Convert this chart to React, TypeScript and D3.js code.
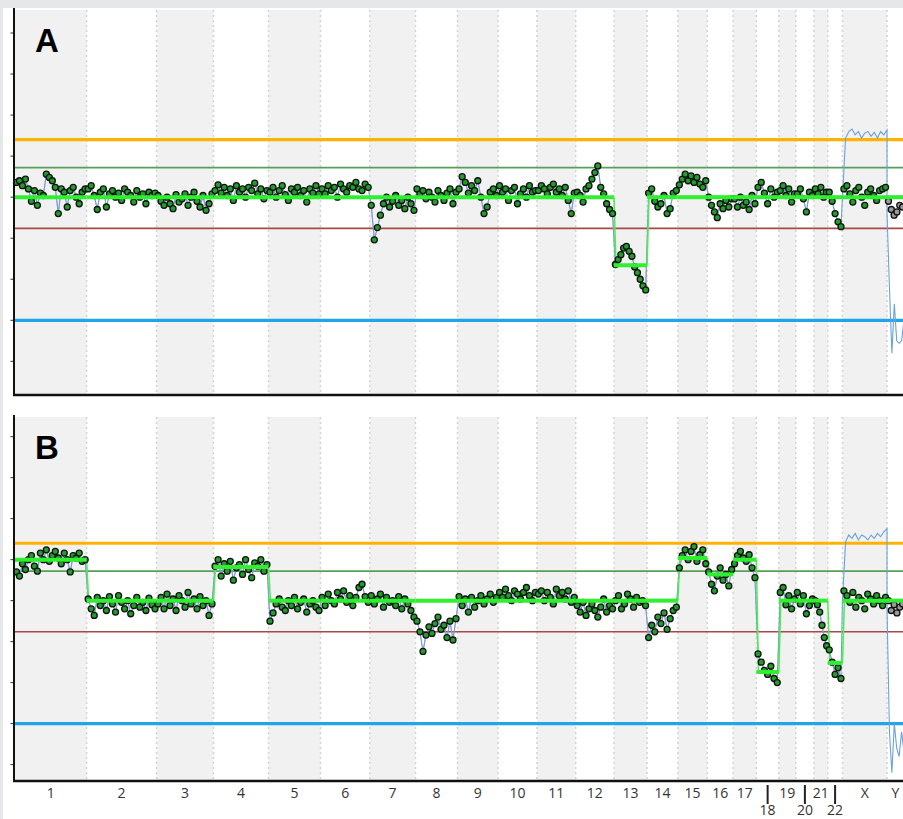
import React from "react";
import * as d3 from "d3";

// ---------- DATA ----------
const chromNames = ["1","2","3","4","5","6","7","8","9","10","11","12","13","14","15","16","17","18","19","20","21","22","X","Y"];
const chromLengthsMb = [249,243,198,191,181,171,159,146,141,135,135,133,115,107,102,90,81,78,59,63,48,51,155,59];
const lowerRowLabels = ["18","20","22"];

const yTickValues = [-2,-1.5,-1,-0.5,0,0.5,1,1.5,2];
const thresholdValues = [0.7, 0.36, -0.38, -1.5]; // high gain, gain, loss, high loss
const panelLetters = ["A","B"];

// Panel A probe bins (log2 ratio), one array per chromosome
const pointsA: number[][] = [
  [0.18,0.2,0.14,0.22,0.1,-0.05,0.08,-0.1,0.05,0.02,0.28,0.24,0.2,0.12,-0.2,0.1,0.06,-0.12,0.08,0.12,0.0,-0.08,0.06,0.1],
  [0.1,0.14,0.02,-0.15,0.06,0.1,-0.12,0.04,0.08,0.0,0.05,-0.04,0.1,0.06,0.02,-0.06,0.08,0.0,0.04,-0.08,0.06,0.02,0.05],
  [0.02,-0.05,-0.1,0.0,-0.08,-0.14,0.03,-0.06,-0.02,0.04,-0.1,0.0,0.06,-0.05,-0.12,0.02,-0.16,-0.08,0.04],
  [0.08,0.15,0.05,0.12,0.02,0.1,-0.04,0.14,0.06,0.1,0.0,0.12,0.08,0.17,0.04,0.1,-0.02,0.08],
  [0.06,0.12,0.0,0.08,0.14,0.03,-0.04,0.1,0.06,0.12,0.02,0.08,-0.06,0.1,0.05,0.14,0.04],
  [0.1,0.04,0.14,0.08,0.12,0.0,0.16,0.1,0.06,0.14,0.12,0.18,0.1,0.08,0.16,0.12],
  [-0.1,-0.52,-0.37,-0.22,-0.08,0.0,-0.12,-0.05,0.02,-0.1,-0.04,-0.14,0.0,-0.08,-0.16],
  [0.1,0.04,0.08,-0.02,0.06,0.0,-0.06,0.08,0.02,-0.04,0.05,0.1,-0.08,0.06],
  [0.1,0.25,0.18,0.05,0.14,0.08,0.2,0.0,-0.2,-0.12,0.06,0.1,0.02],
  [0.14,0.06,0.1,-0.04,0.08,0.12,-0.08,0.04,0.1,0.0,0.14,0.06,0.08],
  [0.08,0.14,0.1,0.04,0.12,0.16,0.06,0.1,0.02,0.12,-0.04,-0.2,0.05],
  [0.06,0.02,-0.06,0.1,0.14,0.22,0.3,0.38,0.12,0.04,-0.08,-0.15,-0.2],
  [-0.82,-0.76,-0.7,-0.62,-0.6,-0.66,-0.72,-0.85,-0.92,-1.0,-1.08,-1.13],
  [0.05,0.1,-0.05,-0.12,-0.08,0.02,-0.2,-0.14,0.05,0.08],
  [0.15,0.22,0.28,0.2,0.26,0.18,0.24,0.16,0.12,0.2],
  [0.0,-0.1,-0.18,-0.25,-0.08,-0.14,-0.04,-0.12,-0.02],
  [-0.02,-0.12,0.0,-0.1,-0.06,-0.15,0.02,-0.08],
  [0.12,0.18,0.05,-0.08,0.1,0.0,0.06],
  [0.08,0.14,0.02,0.1,-0.06,0.04],
  [0.04,0.1,-0.02,-0.18,0.06,0.02],
  [0.1,0.04,0.12,0.0,0.06],
  [0.06,-0.05,-0.2,-0.3,-0.36],
  [0.1,0.14,0.04,-0.06,0.08,0.12,0.0,-0.1,0.06,0.1,0.02,-0.04,0.08,0.1,0.12],
  [-0.05,-0.15,-0.22,-0.18,-0.1,-0.12],
];

const pointsB: number[][] = [
  [0.35,0.3,0.45,0.38,0.5,0.55,0.42,0.36,0.58,0.5,0.62,0.48,0.55,0.6,0.52,0.45,0.58,0.5,0.35,0.55,0.52,0.58,0.48,0.5],
  [0.02,-0.1,-0.18,0.04,-0.06,0.0,-0.12,0.05,-0.04,-0.14,0.06,-0.02,-0.1,0.0,-0.16,-0.06,0.04,-0.08,-0.02,-0.12,0.03,-0.05,-0.1],
  [-0.04,0.04,-0.1,0.08,-0.06,0.02,-0.12,0.06,0.0,-0.08,0.1,-0.04,0.02,-0.1,0.05,-0.06,0.0,-0.18,-0.04],
  [0.42,0.5,0.3,0.45,0.36,0.48,0.25,0.4,0.44,0.32,0.5,0.38,0.28,0.46,0.42,0.5,0.36,0.44],
  [-0.25,-0.15,-0.04,0.02,-0.08,-0.12,0.0,-0.06,0.04,-0.1,-0.02,0.02,-0.14,-0.04,0.0,-0.08,-0.12],
  [0.04,-0.06,0.08,0.0,-0.04,0.1,0.02,0.12,-0.02,0.06,-0.06,0.04,0.16,0.2,0.05,-0.02],
  [0.06,-0.04,0.02,0.08,-0.08,0.04,-0.02,0.0,-0.06,0.05,-0.1,0.02,-0.04,-0.12,-0.2],
  [-0.25,-0.38,-0.62,-0.42,-0.32,-0.4,-0.28,-0.2,-0.35,-0.3,-0.45,-0.25,-0.48,-0.22],
  [0.05,-0.06,0.02,-0.14,0.04,-0.08,0.0,0.06,-0.04,0.02,0.08,-0.02,0.04],
  [0.1,0.04,0.14,0.06,0.0,0.12,0.08,0.02,0.1,0.16,0.06,0.0,0.1],
  [0.08,0.12,0.0,0.1,0.04,-0.04,0.14,0.06,0.1,0.02,0.12,-0.02,0.04],
  [-0.06,-0.14,-0.02,-0.18,-0.1,-0.04,-0.12,-0.2,-0.08,0.02,-0.14,-0.06,-0.1],
  [0.0,0.06,-0.1,-0.04,0.08,0.02,-0.08,0.04,-0.02,0.0,-0.06],
  [-0.45,-0.3,-0.38,-0.2,-0.28,-0.15,-0.35,-0.22,-0.12,-0.08],
  [0.4,0.55,0.62,0.5,0.6,0.66,0.48,0.56,0.62,0.45],
  [0.35,0.2,0.12,0.3,0.4,0.25,0.32,0.18,0.38],
  [0.45,0.55,0.6,0.52,0.48,0.56,0.4,0.28],
  [-0.65,-0.75,-0.85,-0.9,-0.8,-0.95,-1.0],
  [0.1,0.16,-0.05,0.06,-0.1,0.02],
  [0.1,-0.04,0.06,-0.16,-0.06,0.02],
  [0.0,-0.05,-0.14,-0.3,-0.45,-0.55],
  [-0.6,-0.75,-0.9,-0.82,-0.95],
  [0.12,0.06,-0.02,0.1,-0.08,0.04,0.0,-0.1,0.08,0.02,-0.04,0.06,0.0,-0.06,0.04],
  [0.0,-0.12,-0.05,-0.15,-0.08,-0.04],
];

// Segment call per chromosome
const segmentsA = [0,0,0,0,0,0,0,0,0,0,0,0,-0.83,0,0,0,0,0,0,0,0,0,0,0];
const segmentsB = [0.5,0,0,0.41,0,0,0,0,0,0,0,0,0,0,0.52,0.32,0.5,-0.87,0,0,0,-0.76,0,0];

// Sex chromosome reference trace (blue)
const sexTraceA_X = [0.0,0.72,0.8,0.83,0.76,0.8,0.72,0.78,0.8,0.74,0.79,0.72,0.8,0.76,0.82];
const sexTraceA_Y = [-0.2,-1.1,-1.9,-1.3,-1.75,-1.78,-1.75,-1.5];
const sexTraceB_X = [0.0,0.72,0.8,0.76,0.82,0.74,0.8,0.78,0.74,0.8,0.76,0.82,0.78,0.84,0.88];
const sexTraceB_Y = [-0.1,-1.6,-2.1,-1.5,-1.8,-1.9,-1.6,-1.85];

// ---------- CHART ----------
const W = 903, H = 819;
const totalMb = d3.sum(chromLengthsMb);
const chromStarts = chromLengthsMb.map((_, i) => d3.sum(chromLengthsMb.slice(0, i)));
const x = d3.scaleLinear().domain([0, totalMb]).range([15, 904]);

const panels = [
  { letter: panelLetters[0], top: 10, bottom: 395, domain: [-2.41, 2.28], points: pointsA, segs: segmentsA, sx: sexTraceA_X, sy: sexTraceA_Y },
  { letter: panelLetters[1], top: 417, bottom: 781, domain: [-2.2, 2.24], points: pointsB, segs: segmentsB, sx: sexTraceB_X, sy: sexTraceB_Y },
];

const thrStyles = [
  { c: "#ffb300", w: 3.2 },
  { c: "#56a056", w: 1.6 },
  { c: "#a84848", w: 1.6 },
  { c: "#20a4ea", w: 3.2 },
];

function Panel({ p }: { p: any }) {
  const y = d3.scaleLinear().domain(p.domain).range([p.bottom, p.top]);
  const pts: { x: number; y: number; ci: number }[] = [];
  p.points.forEach((arr: number[], ci: number) => {
    const s = chromStarts[ci], L = chromLengthsMb[ci];
    arr.forEach((v, i) => pts.push({ x: x(s + ((i + 0.5) / arr.length) * L), y: y(v), ci }));
  });
  const autoPts = pts.filter((d) => d.ci < 22);
  const linePink = d3.line<any>().x((d) => d.x).y((d) => d.y)(autoPts) || "";
  const blueSeq: [number, number][] = autoPts.map((d) => [d.x, d.y] as [number, number]);
  const xi = 22, yi = 23;
  p.sx.forEach((v: number, i: number) => blueSeq.push([x(chromStarts[xi] + (i / (p.sx.length - 1)) * chromLengthsMb[xi]), y(v)]));
  p.sy.forEach((v: number, i: number) => blueSeq.push([x(chromStarts[yi] + (i / (p.sy.length - 1)) * chromLengthsMb[yi]), y(v)]));
  const lineBlue = d3.line().curve(d3.curveLinear)(blueSeq) || "";

  const segLines = p.segs.map((v: number, ci: number) => ({
    x1: x(chromStarts[ci]), x2: x(chromStarts[ci] + chromLengthsMb[ci]), y: y(v),
  }));
  const connectors = segLines.slice(0, -1).map((s: any, i: number) => ({ x1: s.x2, y1: s.y, x2: segLines[i + 1].x1 + 2, y2: segLines[i + 1].y }))
    .filter((c: any) => Math.abs(c.y1 - c.y2) > 0.5);

  return (
    <g>
      {chromNames.map((n, i) => i % 2 === 0 ? (
        <rect key={"b" + n} x={x(chromStarts[i])} y={p.top} width={x(chromStarts[i] + chromLengthsMb[i]) - x(chromStarts[i])} height={p.bottom - p.top} fill="#f1f1f1" />
      ) : null)}
      {chromNames.slice(1).map((n, i) => (
        <line key={"d" + n} x1={x(chromStarts[i + 1])} x2={x(chromStarts[i + 1])} y1={p.top} y2={p.bottom} stroke="#d4d4d4" strokeWidth={1.5} strokeDasharray="2,3" />
      ))}
      {thresholdValues.map((t, i) => (
        <line key={"t" + i} x1={15} x2={W} y1={y(t)} y2={y(t)} stroke={thrStyles[i].c} strokeWidth={thrStyles[i].w} />
      ))}
      <path d={linePink} fill="none" stroke="#f27fa8" strokeWidth={1} opacity={0.8} />
      <path d={lineBlue} fill="none" stroke="#6aa3dc" strokeWidth={1.1} />
      {connectors.map((c: any, i: number) => (
        <line key={"c" + i} x1={c.x1} x2={c.x2} y1={c.y1} y2={c.y2} stroke="#4cf04c" strokeWidth={1.5} />
      ))}
      {pts.map((d, i) => (
        <circle key={"p" + i} cx={d.x} cy={d.y} r={3} fill={d.ci === 23 ? "#9a9a9a" : "#1f9e2a"} stroke="#111" strokeWidth={1.3} />
      ))}
      {segLines.map((s: any, i: number) => (
        <line key={"s" + i} x1={s.x1} x2={s.x2} y1={s.y} y2={s.y} stroke="#2ef02e" strokeWidth={4} />
      ))}
      {yTickValues.map((t) => (
        <line key={"yt" + t} x1={10.5} x2={14} y1={y(t)} y2={y(t)} stroke="#333" strokeWidth={1} />
      ))}
      <line x1={14} x2={14} y1={p.top - 2} y2={p.bottom} stroke="#111" strokeWidth={2} />
      <line x1={13} x2={W} y1={p.bottom} y2={p.bottom} stroke="#111" strokeWidth={2.5} />
      <text x={35} y={p.top + 42} fontFamily="'Liberation Sans', Arial, sans-serif" fontWeight="bold" fontSize={33} fill="#000">{p.letter}</text>
    </g>
  );
}

export default function App() {
  const bottomY = panels[1].bottom;
  return (
    <svg width={W} height={H} style={{ position: "absolute", left: 0, top: 0, display: "block" }}>
      <rect x={0} y={0} width={W} height={H} fill="#e6e7e9" />
      <rect x={3} y={8} width={W - 3} height={H - 8} fill="#ffffff" />
      {panels.map((p) => <Panel key={p.letter} p={p} />)}
      {chromNames.map((n, i) => {
        const cx = x(chromStarts[i] + chromLengthsMb[i] / 2);
        const lower = lowerRowLabels.includes(n);
        return (
          <g key={"l" + n}>
            {lower && <line x1={cx} x2={cx} y1={bottomY + 4} y2={bottomY + 23} stroke="#222" strokeWidth={2} />}
            <text x={cx} y={lower ? 815 : 798} textAnchor="middle" fontFamily="'Open Sans', sans-serif" fontSize={14} fill="#333">{n}</text>
          </g>
        );
      })}
    </svg>
  );
}
